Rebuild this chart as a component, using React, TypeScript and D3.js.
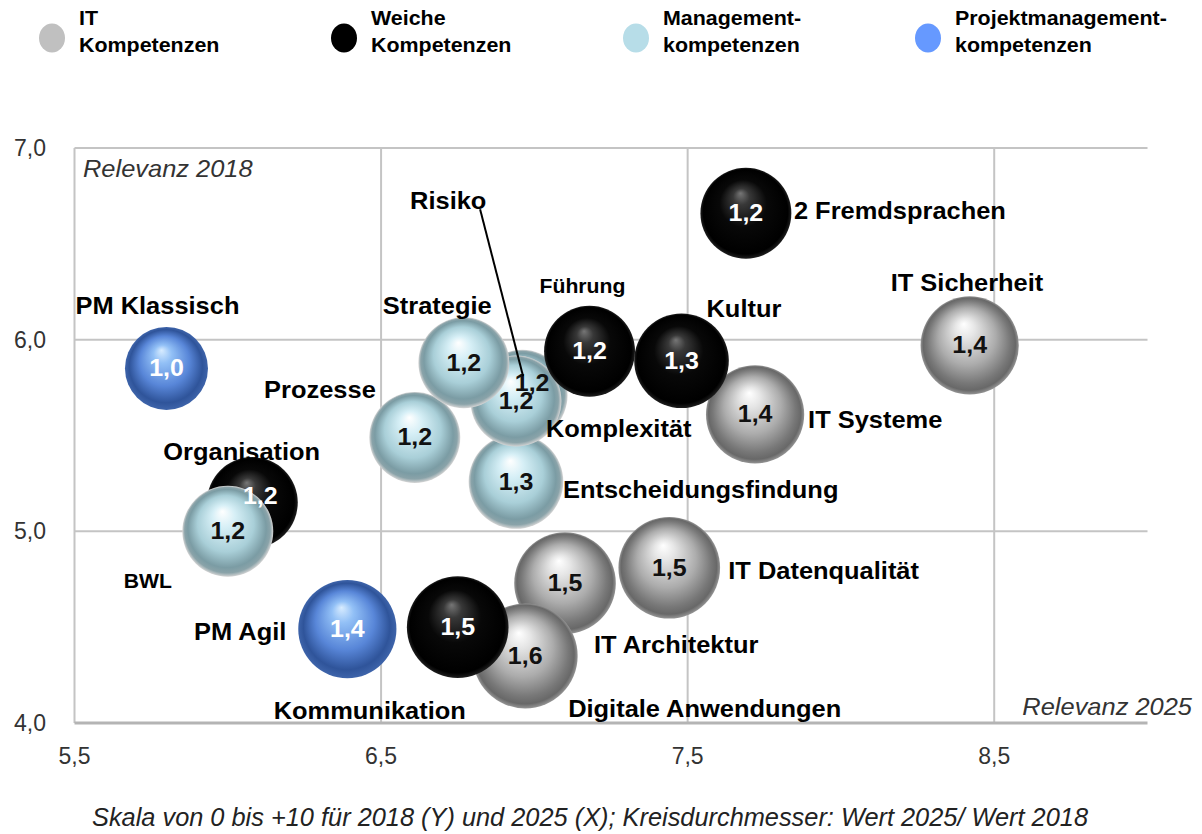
import React from "react";
import * as d3 from "d3";

// ---------- DATA ----------
const competencies = [
  "PM Klassisch", "Organisation", "BWL", "Prozesse", "Risiko", "Entscheidungsfindung",
  "Komplexität", "Strategie", "Führung", "IT Systeme", "Kultur", "2 Fremdsprachen",
  "IT Sicherheit", "IT Datenqualität", "IT Architektur", "Digitale Anwendungen",
  "PM Agil", "Kommunikation",
];
const groups = [
  "PM", "Weich", "Mgmt", "Mgmt", "Mgmt", "Mgmt",
  "Mgmt", "Mgmt", "Weich", "IT", "Weich", "Weich",
  "IT", "IT", "IT", "IT",
  "PM", "Weich",
];
// X: Relevanz 2025
const relevanz2025 = [
  5.80, 6.08, 6.00, 6.61, 6.96, 6.94,
  6.94, 6.77, 7.18, 7.72, 7.48, 7.69,
  8.42, 7.44, 7.10, 6.97,
  6.39, 6.75,
];
// Y: Relevanz 2018
const relevanz2018 = [
  5.85, 5.15, 5.00, 5.49, 5.71, 5.26,
  5.68, 5.88, 5.94, 5.61, 5.89, 6.66,
  5.97, 4.81, 4.73, 4.35,
  4.49, 4.50,
];
// Kreisdurchmesser: Wert 2025 / Wert 2018
const ratio = [
  1.0, 1.2, 1.2, 1.2, 1.2, 1.3,
  1.2, 1.2, 1.2, 1.4, 1.3, 1.2,
  1.4, 1.5, 1.5, 1.6,
  1.4, 1.5,
];

const groupKeys = ["IT", "Weich", "Mgmt", "PM"];
const legendLines = [
  ["IT", "Kompetenzen"],
  ["Weiche", "Kompetenzen"],
  ["Management-", "kompetenzen"],
  ["Projektmanagement-", "kompetenzen"],
];
const xTicks = [5.5, 6.5, 7.5, 8.5];
const yTicks = [4, 5, 6, 7];

// ---------- LAYOUT / STYLE ----------
const W = 1202, H = 834;
const FONT = "'Liberation Sans', Arial, Helvetica, sans-serif";
const SX = 1.06; // slight horizontal stretch of the reference's lettering

// label placement relative to bubble centre (px)
const labelPlace: Record<string, { dx: number; dy: number; anchor?: string; size?: number }> = {
  "PM Klassisch": { dx: -91, dy: -54 },
  "Organisation": { dx: -89, dy: -43 },
  "BWL": { dx: -104, dy: 57, size: 20 },
  "Prozesse": { dx: -39, dy: -39, anchor: "end" },
  "Risiko": { dx: -112, dy: -186 },
  "Entscheidungsfindung": { dx: 47, dy: 16 },
  "Komplexität": { dx: 30, dy: 36 },
  "Strategie": { dx: -81, dy: -49 },
  "Führung": { dx: -50, dy: -58, size: 20 },
  "IT Systeme": { dx: 53, dy: 14 },
  "Kultur": { dx: 25, dy: -44 },
  "2 Fremdsprachen": { dx: 48, dy: 6 },
  "IT Sicherheit": { dx: -79, dy: -54 },
  "IT Datenqualität": { dx: 59, dy: 11 },
  "IT Architektur": { dx: 29, dy: 70 },
  "Digitale Anwendungen": { dx: 43, dy: 61 },
  "PM Agil": { dx: -61, dy: 11, anchor: "end" },
  "Kommunikation": { dx: -184, dy: 92 },
};
const valueOffset: Record<string, { dx: number; dy: number }> = {
  "Organisation": { dx: 8, dy: -7 },
  "Risiko": { dx: 10, dy: -12 },
};
const leader: Record<string, { x1: number; y1: number; x2: number; y2: number }> = {
  "Risiko": { x1: -42, y1: -186, x2: 1, y2: -19 },
};

const legendColor: Record<string, string> = {
  IT: "#c0c0c0", Weich: "#000000", Mgmt: "#b7dde8", PM: "#6699ff",
};
const valueTextColor: Record<string, string> = {
  IT: "#111", Weich: "#fff", Mgmt: "#111", PM: "#fff",
};
const gradStops: Record<string, [number, string][]> = {
  IT: [[0, "#ffffff"], [0.2, "#e6e6e6"], [0.58, "#acacac"], [0.84, "#787878"], [0.94, "#686868"], [1, "#949494"]],
  Weich: [[0, "#767676"], [0.18, "#383838"], [0.52, "#080808"], [0.93, "#000000"], [1, "#1e1e1e"]],
  Mgmt: [[0, "#ffffff"], [0.25, "#d6eff6"], [0.62, "#a9cfd8"], [0.86, "#7b9ca4"], [0.94, "#8aa3a9"], [1, "#d4d4d4"]],
  PM: [[0, "#d8ecff"], [0.22, "#92c0f6"], [0.6, "#5886d8"], [0.88, "#2f549a"], [1, "#3e64aa"]],
};

const fmt = (v: number) => d3.format(".1f")(v).replace(".", ",");

export default function App() {
  const x = d3.scaleLinear().domain([5.5, 9.0]).range([74.5, 1147.5]);
  const y = d3.scaleLinear().domain([4, 7]).range([723, 148]);
  const r = d3.scaleSqrt().domain([0, 1]).range([0, 41.5]);

  const items = competencies.map((name, i) => ({
    name,
    group: groups[i],
    cx: x(relevanz2025[i]),
    cy: y(relevanz2018[i]),
    rad: r(ratio[i]),
    v: ratio[i],
  }));

  const x0 = x(5.5), x1 = x(9.0), yTop = y(7), yBot = y(4);
  const tr = (tx: number, ty: number, s = SX) => `translate(${tx},${ty}) scale(${s},1)`;

  return (
    <svg width={W} height={H} style={{ position: "absolute", left: 0, top: 0, background: "#fff" }}
      fontFamily={FONT}>
      <defs>
        {groupKeys.map((g) => (
          <radialGradient key={g} id={`grad-${g}`} cx="50%" cy="50%" r="50%" fx="44%" fy="28%">
            {gradStops[g].map(([o, c], k) => (
              <stop key={k} offset={o} stopColor={c} />
            ))}
          </radialGradient>
        ))}
      </defs>
      <rect width={W} height={H} fill="#fff" />

      {/* legend */}
      {groupKeys.map((g, i) => {
        const lx = 52 + i * 292;
        return (
          <g key={g}>
            <ellipse cx={lx} cy={38} rx={13} ry={14.5} fill={legendColor[g]} />
            <text transform={tr(lx + 27, 25, 1.02)} fontSize={21} fontWeight="bold" fill="#000">{legendLines[i][0]}</text>
            <text transform={tr(lx + 27, 52, 1.02)} fontSize={21} fontWeight="bold" fill="#000">{legendLines[i][1]}</text>
          </g>
        );
      })}

      {/* grid */}
      {yTicks.filter((t) => t !== 4).map((t) => (
        <line key={`h${t}`} x1={x0} x2={x1} y1={y(t)} y2={y(t)} stroke="#c4c4c4" strokeWidth={2} />
      ))}
      {xTicks.map((t) => (
        <line key={`v${t}`} x1={x(t)} x2={x(t)} y1={yTop} y2={yBot} stroke="#c4c4c4" strokeWidth={2} />
      ))}
      <line x1={x0} x2={x1} y1={yBot} y2={yBot} stroke="#b4b4b4" strokeWidth={3} />

      {/* tick labels */}
      {yTicks.map((t) => (
        <text key={`yl${t}`} x={46} y={y(t) + 8} textAnchor="end" fontSize={23} fill="#333">{fmt(t)}</text>
      ))}
      {xTicks.map((t) => (
        <text key={`xl${t}`} x={x(t)} y={764} textAnchor="middle" fontSize={23} fill="#333">{fmt(t)}</text>
      ))}

      <text transform={tr(83, 177)} fontSize={24} fontStyle="italic" fill="#333">Relevanz 2018</text>
      <text transform={tr(1192, 715)} fontSize={24} fontStyle="italic" fill="#333" textAnchor="end">Relevanz 2025</text>

      {/* bubbles */}
      {items.map((d) => (
        <circle key={`b-${d.name}`} cx={d.cx} cy={d.cy} r={d.rad} fill={`url(#grad-${d.group})`} />
      ))}

      {/* value labels */}
      {items.map((d) => {
        const off = valueOffset[d.name] || { dx: 0, dy: 0 };
        return (
          <text key={`v-${d.name}`} transform={tr(d.cx + off.dx, d.cy + off.dy + 8, 1.04)} textAnchor="middle"
            fontSize={24} fontWeight="bold" fill={valueTextColor[d.group]}>{fmt(d.v)}</text>
        );
      })}

      {/* leader lines */}
      {items.filter((d) => leader[d.name]).map((d) => {
        const l = leader[d.name];
        return (
          <line key={`l-${d.name}`} x1={d.cx + l.x1} y1={d.cy + l.y1} x2={d.cx + l.x2} y2={d.cy + l.y2}
            stroke="#000" strokeWidth={2} />
        );
      })}

      {/* category labels */}
      {items.map((d) => {
        const p = labelPlace[d.name];
        return (
          <text key={`c-${d.name}`} transform={tr(d.cx + p.dx, d.cy + p.dy)} textAnchor={p.anchor || "start"}
            fontSize={p.size || 24} fontWeight="bold" fill="#000">{d.name}</text>
        );
      })}

      {/* footnote */}
      <text x={590} y={826} textAnchor="middle" fontSize={25} fontStyle="italic" fill="#222"
        textLength={996} lengthAdjust="spacingAndGlyphs">
        Skala von 0 bis +10 für 2018 (Y) und 2025 (X); Kreisdurchmesser: Wert 2025/ Wert 2018
      </text>
    </svg>
  );
}
